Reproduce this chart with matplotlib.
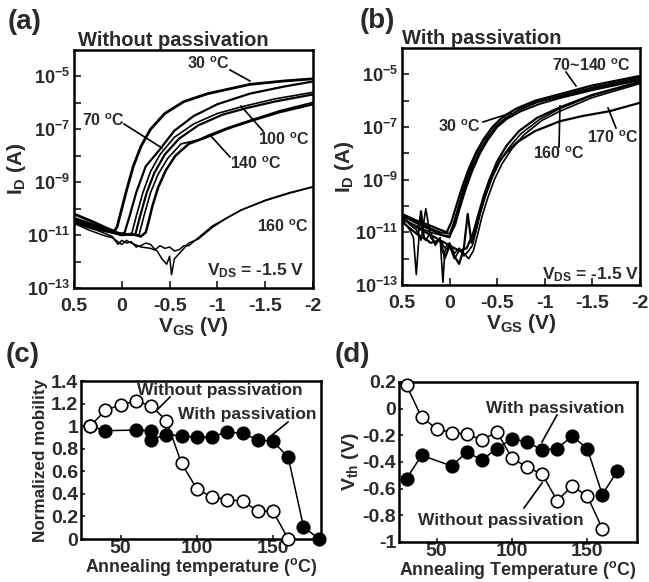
import matplotlib
matplotlib.use('Agg')
import matplotlib.pyplot as plt
import numpy as np

W, H = 649, 582
INK = '#2a2a2a'

plt.rcParams['font.family'] = ['Liberation Sans', 'DejaVu Sans']
plt.rcParams['font.weight'] = 'bold'
plt.rcParams['mathtext.fontset'] = 'custom'
plt.rcParams['mathtext.rm'] = 'Liberation Sans:bold'
plt.rcParams['mathtext.it'] = 'Liberation Sans:bold'
plt.rcParams['mathtext.bf'] = 'Liberation Sans:bold'
plt.rcParams['axes.unicode_minus'] = False
plt.rcParams['text.color'] = INK
plt.rcParams['axes.labelcolor'] = INK
plt.rcParams['xtick.color'] = INK
plt.rcParams['ytick.color'] = INK
plt.rcParams['axes.labelweight'] = 'bold'

# ---- (a) transfer curves without passivation: (VGS list, log10 ID list) ----
a_30_v = [0.5, 0.3, 0.15, 0.08, 0.05, 0.0, -0.05, -0.12, -0.2, -0.3, -0.45, -0.65, -0.9, -1.34, -1.7, -2.0]
a_30_i = [-10.2, -10.5, -10.75, -10.85, -10.7, -10.0, -9.3, -8.4, -7.65, -7.0, -6.4, -5.95, -5.65, -5.3, -5.17, -5.09]
a_70_v = [0.5, 0.3, 0.1, 0.0, -0.03, -0.08, -0.15, -0.25, -0.4, -0.55, -0.75, -1.0, -1.34, -1.7, -2.0]
a_70_i = [-10.35, -10.6, -10.85, -10.95, -10.9, -10.3, -9.4, -8.4, -7.75, -7.05, -6.5, -6.05, -5.65, -5.38, -5.19]
a_100a_v = [0.5, 0.3, 0.1, 0.0, -0.1, -0.15, -0.22, -0.3, -0.4, -0.55, -0.75, -1.0, -1.25, -1.6, -2.0]
a_100a_i = [-10.4, -10.65, -10.85, -10.95, -11.0, -10.3, -9.4, -8.6, -7.95, -7.3, -6.8, -6.4, -6.15, -5.85, -5.6]
a_100b_v = [0.5, 0.3, 0.1, 0.0, -0.14, -0.19, -0.26, -0.34, -0.45, -0.6, -0.8, -1.05, -1.3, -1.6, -2.0]
a_100b_i = [-10.45, -10.7, -10.9, -10.95, -11.0, -10.3, -9.4, -8.65, -7.95, -7.35, -6.85, -6.45, -6.2, -5.95, -5.68]
a_140a_v = [0.5, 0.3, 0.1, 0.0, -0.1, -0.18, -0.23, -0.3, -0.38, -0.48, -0.62, -0.8, -0.92, -1.1, -1.35, -1.65, -2.0]
a_140a_i = [-10.5, -10.7, -10.9, -10.95, -11.0, -11.0, -10.3, -9.4, -8.7, -8.1, -7.55, -7.4, -7.2, -6.95, -6.65, -6.3, -5.98]
a_140b_v = [0.5, 0.3, 0.1, 0.0, -0.1, -0.2, -0.25, -0.28, -0.32, -0.38, -0.46, -0.56, -0.7, -0.92, -1.1, -1.35, -1.65, -2.0]
a_140b_i = [-10.55, -10.75, -10.9, -11.0, -10.95, -11.05, -10.9, -10.5, -9.9, -9.2, -8.55, -8.0, -7.55, -7.25, -6.98, -6.68, -6.35, -6.05]
a_160a_v = [0.5, 0.35, 0.2, 0.1, 0.04, 0.0, -0.05, -0.1, -0.15, -0.2, -0.25, -0.3, -0.35, -0.4, -0.45, -0.5, -0.55, -0.6, -0.65, -0.7, -0.8, -0.95, -1.1, -1.25, -1.5, -1.75, -2.0]
a_160a_i = [-10.45, -10.7, -10.9, -11.05, -11.35, -11.2, -11.3, -11.25, -11.45, -11.4, -11.3, -11.35, -11.55, -11.4, -11.5, -11.45, -11.6, -11.55, -11.4, -11.4, -11.1, -10.65, -10.35, -10.05, -9.7, -9.42, -9.18]
a_160b_v = [0.5, 0.35, 0.2, 0.1, 0.0, -0.05, -0.1, -0.2, -0.3, -0.37, -0.42, -0.47, -0.5, -0.52, -0.55, -0.6, -0.65, -0.7, -0.8, -0.95, -1.1, -1.25, -1.5, -1.75, -2.0]
a_160b_i = [-10.55, -10.8, -11.0, -11.1, -11.35, -11.2, -11.3, -11.45, -11.5, -11.6, -11.9, -12.1, -11.8, -12.5, -11.9, -11.7, -11.5, -11.3, -11.15, -10.7, -10.35, -10.05, -9.68, -9.4, -9.17]

# ---- (b) transfer curves with passivation ----
b_1_v = [0.5, 0.35, 0.2, 0.1, 0.03, -0.02, -0.07, -0.13, -0.2, -0.28, -0.36, -0.45, -0.55, -0.7, -0.9, -1.16, -1.5, -2.0]
b_1_i = [-10.3, -10.55, -10.75, -10.9, -11.0, -10.6, -10.0, -9.3, -8.6, -7.95, -7.45, -7.0, -6.65, -6.3, -6.0, -5.75, -5.42, -5.06]
b_2_v = [0.5, 0.35, 0.2, 0.1, 0.0, -0.05, -0.1, -0.16, -0.23, -0.31, -0.39, -0.48, -0.58, -0.73, -0.93, -1.16, -1.5, -2.0]
b_2_i = [-10.4, -10.6, -10.85, -11.0, -11.05, -10.6, -10.0, -9.3, -8.6, -7.95, -7.45, -7.0, -6.68, -6.35, -6.05, -5.82, -5.5, -5.12]
b_30_v = [0.5, 0.35, 0.2, 0.1, 0.0, -0.04, -0.09, -0.14, -0.2, -0.27, -0.35, -0.44, -0.53, -0.65, -0.85, -1.16, -1.5, -2.0]
b_30_i = [-10.5, -10.75, -11.0, -11.1, -11.2, -10.7, -10.05, -9.4, -8.75, -8.1, -7.55, -7.05, -6.7, -6.4, -6.1, -5.85, -5.55, -5.18]
b_4_v = [0.5, 0.35, 0.2, 0.08, 0.0, -0.06, -0.11, -0.17, -0.24, -0.32, -0.4, -0.5, -0.6, -0.75, -0.95, -1.16, -1.5, -2.0]
b_4_i = [-10.35, -10.65, -10.9, -11.1, -11.15, -10.7, -10.05, -9.35, -8.65, -8.0, -7.5, -7.0, -6.7, -6.4, -6.12, -5.9, -5.6, -5.22]
b_160a_v = [0.5, 0.42, 0.35, 0.3, 0.25, 0.2, 0.15, 0.1, 0.05, 0.0, -0.05, -0.1, -0.15, -0.2, -0.24, -0.28, -0.32, -0.38, -0.45, -0.53, -0.62, -0.75, -0.95, -1.16, -1.5, -2.0]
b_160a_i = [-10.4, -10.7, -10.9, -11.3, -10.1, -11.2, -11.4, -11.3, -11.6, -11.4, -11.8, -11.6, -11.9, -11.7, -11.5, -10.9, -10.3, -9.6, -8.9, -8.3, -7.8, -7.25, -6.7, -6.3, -5.8, -5.3]
b_160b_v = [0.5, 0.42, 0.38, 0.35, 0.32, 0.25, 0.2, 0.15, 0.1, 0.07, 0.05, 0.0, -0.05, -0.1, -0.15, -0.2, -0.25, -0.3, -0.34, -0.4, -0.47, -0.55, -0.65, -0.78, -0.97, -1.16, -1.5, -2.0]
b_160b_i = [-10.5, -10.9, -11.2, -12.6, -11.1, -11.3, -11.0, -11.5, -11.2, -12.9, -11.7, -11.5, -12.0, -11.7, -11.8, -12.0, -11.7, -11.0, -10.4, -9.7, -9.0, -8.4, -7.85, -7.3, -6.75, -6.4, -5.88, -5.35]
b_160c_v = [0.5, 0.4, 0.33, 0.3, 0.27, 0.2, 0.1, 0.05, 0.0, -0.05, -0.1, -0.15, -0.19, -0.23, -0.27, -0.31, -0.36, -0.42, -0.5, -0.6, -0.73, -0.92, -1.16, -1.5, -2.0]
b_160c_i = [-10.6, -10.9, -11.1, -10.2, -11.2, -11.4, -11.3, -11.98, -11.5, -11.9, -12.2, -11.6, -10.3, -11.4, -11.0, -10.4, -9.7, -9.0, -8.3, -7.7, -7.15, -6.65, -6.25, -5.78, -5.28]
b_170_v = [0.5, 0.35, 0.2, 0.1, 0.0, -0.1, -0.18, -0.25, -0.3, -0.36, -0.42, -0.5, -0.6, -0.72, -0.9, -1.16, -1.4, -1.68, -2.0]
b_170_i = [-10.45, -10.8, -11.1, -11.3, -11.5, -11.7, -11.6, -11.0, -10.35, -9.6, -9.0, -8.4, -7.95, -7.55, -7.15, -6.78, -6.58, -6.4, -6.08]

# ---- (c) normalized mobility vs annealing temperature ----
c_temp_wo = [30, 40, 50, 60, 70, 80, 90, 100, 110, 120, 130, 140, 150, 160]
c_mob_wo = [1.0, 1.14, 1.19, 1.22, 1.18, 1.05, 0.67, 0.445, 0.37, 0.35, 0.335, 0.25, 0.245, 0.0]
c_temp_w = [30, 40, 60, 70, 70, 80, 90, 100, 110, 120, 130, 140, 150, 160, 170, 180]
c_mob_w = [1.0, 0.96, 0.965, 0.96, 0.88, 0.925, 0.915, 0.9, 0.905, 0.95, 0.935, 0.88, 0.865, 0.725, 0.11, 0.0]

# ---- (d) threshold voltage vs annealing temperature ----
d_temp_wo = [30, 40, 50, 60, 70, 80, 90, 100, 110, 120, 130, 140, 150, 160]
d_vth_wo = [0.175, -0.065, -0.15, -0.18, -0.19, -0.235, -0.175, -0.37, -0.44, -0.49, -0.69, -0.58, -0.655, -0.9]
d_temp_w = [30, 40, 60, 70, 80, 90, 100, 110, 120, 130, 140, 150, 160, 170]
d_vth_w = [-0.525, -0.35, -0.43, -0.325, -0.385, -0.3, -0.225, -0.25, -0.31, -0.3, -0.205, -0.3, -0.645, -0.465]

a_curves = [(a_30_v, a_30_i, 2.0), (a_70_v, a_70_i, 1.6), (a_100a_v, a_100a_i, 1.2),
            (a_100b_v, a_100b_i, 1.6), (a_140a_v, a_140a_i, 1.2), (a_140b_v, a_140b_i, 1.8),
            (a_160a_v, a_160a_i, 1.1), (a_160b_v, a_160b_i, 1.1)]
b_curves = [(b_1_v, b_1_i, 1.6), (b_2_v, b_2_i, 1.4), (b_30_v, b_30_i, 1.2), (b_4_v, b_4_i, 1.4),
            (b_160a_v, b_160a_i, 1.2), (b_160b_v, b_160b_i, 1.2), (b_160c_v, b_160c_i, 1.6),
            (b_170_v, b_170_i, 1.6)]


def fp(x, y):
    # pixel position (from top-left) -> figure fraction
    return (x / W, 1 - y / H)


def add_axes_px(fig, left, top, right, bottom):
    return fig.add_axes([left / W, 1 - bottom / H, (right - left) / W, (bottom - top) / H])


def style_axes(ax, lw=1.8):
    for s in ax.spines.values():
        s.set_linewidth(lw)
        s.set_color('black')
    ax.tick_params(direction='in', length=5, width=1.3)
    for lab in ax.get_xticklabels() + ax.get_yticklabels():
        lab.set_fontweight('bold')


def note(fig, text, xy, start, end, size=11.5, ha='left'):
    fig.text(*fp(*xy), text, fontsize=size, fontweight='bold', ha=ha, va='center')
    if start is not None:
        fig.add_artist(plt.Line2D([start[0] / W, end[0] / W], [1 - start[1] / H, 1 - end[1] / H],
                                  color='black', lw=1.2, transform=fig.transFigure))


def transfer_panel(ax, curves):
    for v, logi, lw in curves:
        ax.plot(v, 10.0 ** np.array(logi), color='black', lw=lw, solid_joinstyle='round')
    ax.set_yscale('log')
    ax.set_xlim(0.5, -2)
    ax.set_ylim(1e-13, 1e-4)
    ax.set_xticks([0.5, 0, -0.5, -1, -1.5, -2])
    ax.set_xticklabels(['0.5', '0', '-0.5', '-1', '-1.5', '-2'])
    exps = list(range(-13, -4))
    ax.set_yticks([10.0 ** e for e in exps])
    ax.set_yticklabels([r'$10^{%d}$' % e if e % 2 else '' for e in exps])
    ax.minorticks_off()
    ax.set_xlabel(r'V$_{\rm GS}$ (V)', fontsize=15, labelpad=0)
    ax.set_ylabel(r'I$_{\rm D}$ (A)', fontsize=15, labelpad=-1)
    style_axes(ax)
    ax.tick_params(axis='x', labelsize=14, pad=7)
    ax.tick_params(axis='y', labelsize=13, pad=3)


fig = plt.figure(figsize=(W / 100, H / 100), dpi=100)

ax_a = add_axes_px(fig, 74, 50, 313, 288)
transfer_panel(ax_a, a_curves)
ax_b = add_axes_px(fig, 402, 48, 640, 285)
transfer_panel(ax_b, b_curves)

# (c)
ax_c = add_axes_px(fig, 81, 381, 321, 539)
ax_c.plot(c_temp_w, c_mob_w, '-o', color='black', lw=1.1, ms=9, mfc='black', mec='black', mew=1.2,
          clip_on=False, zorder=3)
ax_c.plot(c_temp_wo, c_mob_wo, '-o', color='black', lw=1.1, ms=9, mfc='white', mec='black', mew=1.2,
          clip_on=False, zorder=4)
ax_c.set_xlim(24, 181.5)
ax_c.set_ylim(0, 1.4)
ax_c.set_xticks([50, 100, 150])
ax_c.set_yticks([0, 0.2, 0.4, 0.6, 0.8, 1.0, 1.2, 1.4])
ax_c.set_yticklabels(['0', '0.2', '0.4', '0.6', '0.8', '1', '1.2', '1.4'])
ax_c.set_xlabel(r'Annealing temperature ($^{\rm o}$C)', fontsize=12.8, labelpad=-1)
ax_c.set_ylabel('Normalized mobility', fontsize=12.3, labelpad=2)
style_axes(ax_c)
ax_c.tick_params(labelsize=14, length=3, pad=2)

# (d)
ax_d = add_axes_px(fig, 399, 382, 637, 542)
ax_d.plot(d_temp_w, d_vth_w, '-o', color='black', lw=1.1, ms=9, mfc='black', mec='black', mew=1.2,
          clip_on=False, zorder=3)
ax_d.plot(d_temp_wo, d_vth_wo, '-o', color='black', lw=1.1, ms=9, mfc='white', mec='black', mew=1.2,
          clip_on=False, zorder=4)
ax_d.set_xlim(25, 183)
ax_d.set_ylim(-1, 0.2)
ax_d.set_xticks([50, 100, 150])
ax_d.set_yticks([0.2, 0, -0.2, -0.4, -0.6, -0.8, -1])
ax_d.set_yticklabels(['0.2', '0', '-0.2', '-0.4', '-0.6', '-0.8', '-1'])
ax_d.set_xlabel(r'Annealing Temperature ($^{\rm o}$C)', fontsize=12.8, labelpad=-1)
ax_d.set_ylabel(r'V$_{\rm th}$ (V)', fontsize=14, labelpad=1)
style_axes(ax_d)
ax_d.tick_params(labelsize=14, length=3, pad=2)
ax_d.tick_params(axis='x', pad=1)
ax_c.tick_params(axis='x', pad=1)

# panel letters
for lab, x, y in [('(a)', 8, 22), ('(b)', 360, 21), ('(c)', 6, 355), ('(d)', 335, 355)]:
    fig.text(*fp(x, y), lab, fontsize=20, fontweight='bold', va='center', ha='left')

# titles of (a) and (b)
note(fig, 'Without passivation', (78, 40), None, None, size=14.5)
note(fig, 'With passivation', (402, 39), None, None, size=14.5)

# annotations (a)
deg = r'$^{\rm o}$C'
note(fig, '30 ' + deg, (187, 64), (230, 70), (250, 81))
note(fig, '70 ' + deg, (82, 121), (124, 124), (162, 148))
note(fig, '100 ' + deg, (258, 140), (263, 131), (241, 106))
note(fig, '140 ' + deg, (230, 164), (230, 157), (210, 135))
note(fig, '160 ' + deg, (257, 227), None, None)
note(fig, r'V$_{\rm DS}$ = -1.5 V', (207, 271), None, None, size=12.5)

# annotations (b)
note(fig, '70~140 ' + deg, (552, 66), (566, 72), (576, 86))
note(fig, '30 ' + deg, (438, 127), (483, 122), (511, 113))
note(fig, '170 ' + deg, (587, 138), (616, 128), (608, 108))
note(fig, '160 ' + deg, (533, 154), (559, 147), (560, 106))
note(fig, r'V$_{\rm DS}$ = -1.5 V', (542, 275), None, None, size=12.5)

# annotations (c)
note(fig, 'Without passivation', (137, 391), (170, 397), (157, 410), size=12.5)
note(fig, 'With passivation', (178, 415), (288, 422), (272, 435), size=12.5)

# annotations (d)
note(fig, 'With passivation', (486, 408), (557, 415), (542, 442), size=12.5)
note(fig, 'Without passivation', (418, 521), (524, 508), (542, 483), size=12.5)

fig.savefig('out.png', dpi=100)
